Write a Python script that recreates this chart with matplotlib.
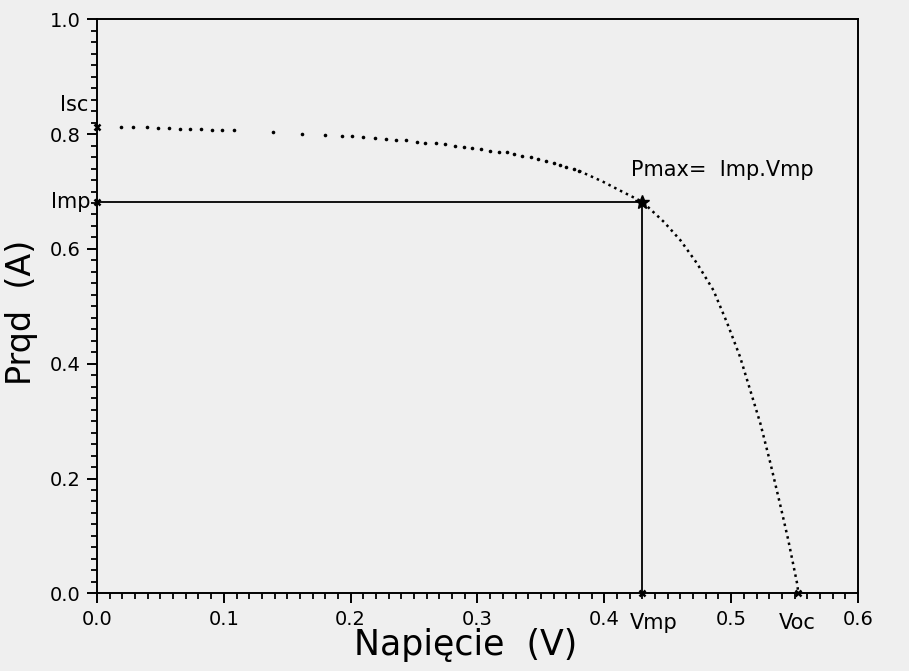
import matplotlib.pyplot as plt
from matplotlib.ticker import MultipleLocator

# punkty charakterystyczne ogniwa
Isc = 0.813
Imp = 0.682
Vmp = 0.430
Voc = 0.553

# kropki (czesc plaska)
v_dots = [0.0189, 0.0284, 0.0394, 0.0481, 0.0568, 0.0655, 0.0734, 0.0820, 0.0907,
          0.0986, 0.108, 0.139, 0.162, 0.180, 0.193, 0.201, 0.210, 0.219, 0.228,
          0.236, 0.244, 0.252, 0.259, 0.267, 0.274, 0.282, 0.289, 0.296, 0.303,
          0.310, 0.317, 0.323, 0.329, 0.335, 0.342, 0.348, 0.354, 0.360, 0.365,
          0.370, 0.376, 0.380]
i_dots = [0.813, 0.812, 0.812, 0.811, 0.811, 0.809, 0.809, 0.809, 0.808,
          0.808, 0.807, 0.804, 0.801, 0.799, 0.797, 0.796, 0.795, 0.793, 0.791,
          0.790, 0.789, 0.787, 0.785, 0.784, 0.782, 0.779, 0.778, 0.776, 0.774,
          0.771, 0.769, 0.768, 0.765, 0.762, 0.760, 0.756, 0.753, 0.750, 0.747,
          0.743, 0.740, 0.736]

# czesc stroma (gesto kropkowana)
v_steep = [0.380, 0.399, 0.413, 0.430, 0.447, 0.460, 0.473, 0.486, 0.497, 0.507,
           0.515, 0.523, 0.531, 0.539, 0.545, 0.552, 0.553]
i_steep = [0.736, 0.717, 0.701, 0.682, 0.647, 0.615, 0.575, 0.528, 0.470, 0.412,
           0.354, 0.296, 0.226, 0.151, 0.093, 0.017, 0.0]

bg = '#efefef'
fig = plt.figure(figsize=(9.09, 6.71), dpi=100, facecolor=bg)
ax = fig.add_axes([0.1067, 0.1158, 0.8372, 0.8554], facecolor=bg)

ax.plot(v_dots, i_dots, 'o', color='black', markersize=2.6, markeredgewidth=0)
ax.plot(v_steep, i_steep, color='black', linewidth=1.8, linestyle=(0, (1, 1.6)))

# linie do punktu mocy maksymalnej
ax.plot([0, Vmp], [Imp, Imp], color='black', linewidth=1.3)
ax.plot([Vmp, Vmp], [0, Imp], color='black', linewidth=1.3)

ax.plot([Vmp], [Imp], marker='*', color='black', markersize=10, clip_on=False)
ax.plot([0, 0, Vmp, Voc], [Isc, Imp, 0, 0], 'x', color='black', markersize=5,
        markeredgewidth=1.8, clip_on=False)

ax.text(0.421, 0.727, 'Pmax=  Imp.Vmp', fontsize=15, va='baseline')
ax.text(-0.007, 0.851, 'Isc', fontsize=15, ha='right', va='center')
ax.text(-0.005, Imp, 'Imp', fontsize=15, ha='right', va='center')
ax.text(0.439, -0.052, 'Vmp', fontsize=15, ha='center', va='center')
ax.text(0.552, -0.052, 'Voc', fontsize=15, ha='center', va='center')

ax.set_xlim(0, 0.6)
ax.set_ylim(0, 1.0)
ax.xaxis.set_major_locator(MultipleLocator(0.1))
ax.xaxis.set_minor_locator(MultipleLocator(0.01))
ax.yaxis.set_major_locator(MultipleLocator(0.2))
ax.yaxis.set_minor_locator(MultipleLocator(0.02))
ax.set_xticks([0, 0.1, 0.2, 0.3, 0.4, 0.5, 0.6])
ax.set_xticklabels(['0.0', '0.1', '0.2', '0.3', '0.4', '0.5', '0.6'])
ax.set_yticks([0, 0.2, 0.4, 0.6, 0.8, 1.0])
ax.set_yticklabels(['0.0', '0.2', '0.4', '0.6', '0.8', '1.0'])
ax.tick_params(which='major', direction='out', length=7, width=1.4, labelsize=14, pad=5)
ax.tick_params(which='minor', direction='out', length=4.5, width=1.3)
for s in ax.spines.values():
    s.set_linewidth(1.4)

ax.set_xlabel('Napięcie  (V)', fontsize=25)
ax.set_ylabel('Prqd  (A)', fontsize=24)
ax.xaxis.set_label_coords(0.484, -0.06)
ax.yaxis.set_label_coords(-0.078, 0.49)

fig.savefig('out.png', dpi=100, facecolor=bg)
